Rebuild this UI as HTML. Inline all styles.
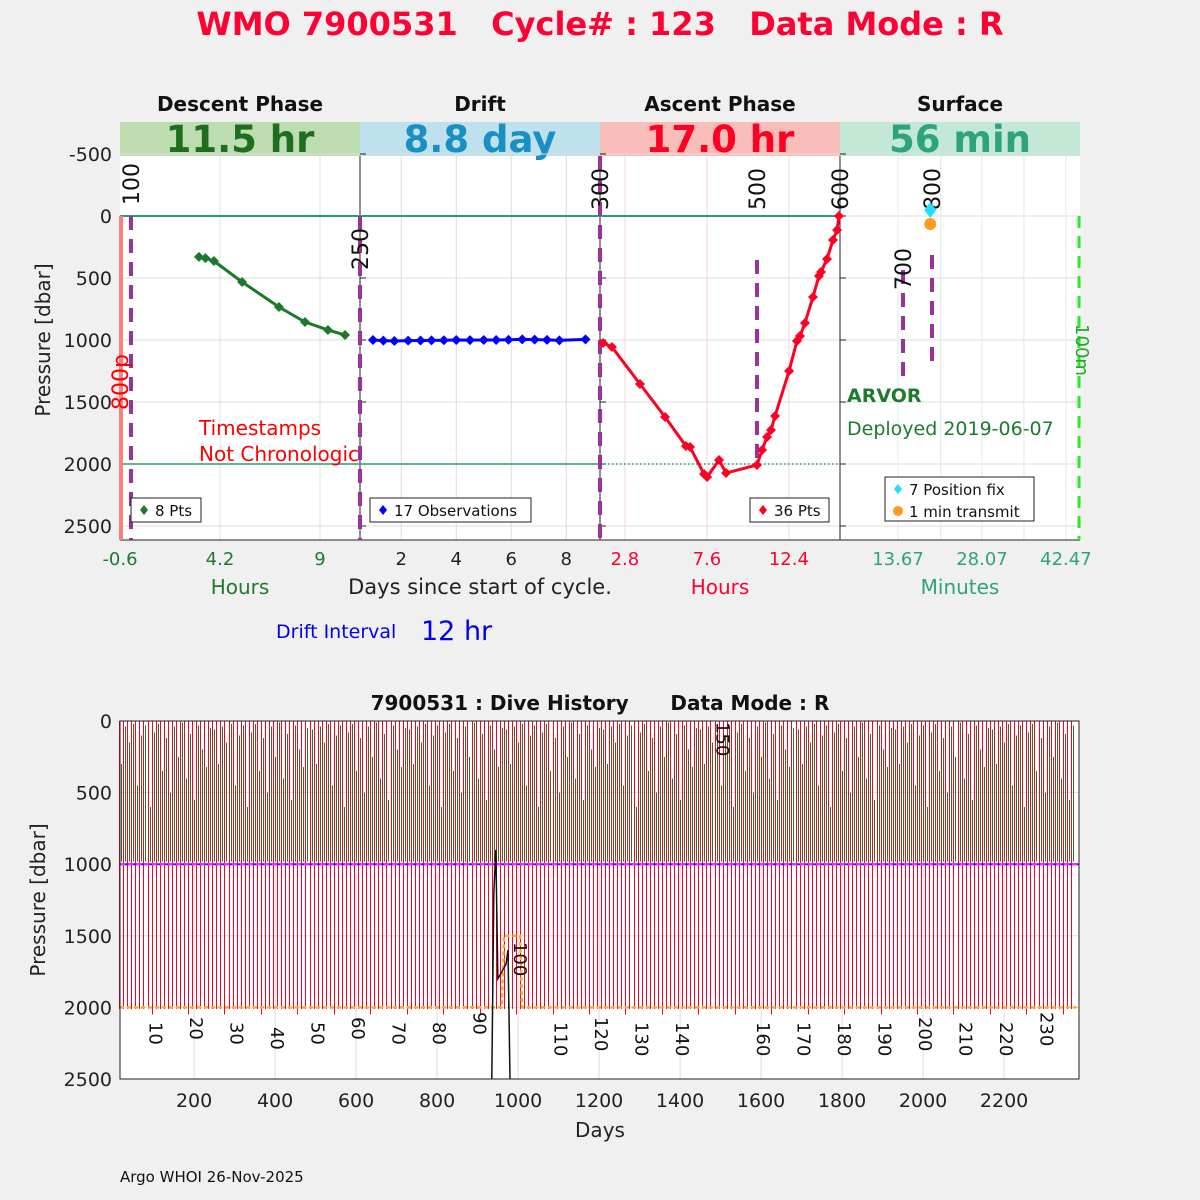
<!DOCTYPE html>
<html><head><meta charset="utf-8">
<style>
body{margin:0;background:#f0f0f0;}
svg{display:block;font-family:"DejaVu Sans","Liberation Sans",sans-serif;}
</style></head>
<body>
<svg id="c" width="1200" height="1200" viewBox="0 0 1200 1200" xmlns="http://www.w3.org/2000/svg"></svg>
<script>
// ---------- data ----------
const descentHours=[3.19,3.5,3.91,5.26,7.03,8.28,9.38,10.2];
const descentPres=[330,340,363,532,734,855,919,960];
const driftDays=[0.97,1.35,1.75,2.25,2.7,3.1,3.55,4.0,4.5,5.0,5.45,5.9,6.4,6.85,7.3,7.75,8.7];
const driftPres=[1000,1005,1008,1005,1004,1003,1002,1000,1001,1000,1000,998,995,997,999,1003,995];
const ascentHours=[1.52,2.04,3.68,5.15,6.37,6.61,7.43,7.61,8.31,8.72,10.53,10.83,11.12,11.35,11.59,12.41,12.87,13.05,13.34,13.81,14.16,14.28,14.63,14.98,15.22,15.33];
const ascentPres=[1024,1056,1355,1621,1855,1863,2081,2105,1968,2073,2008,1887,1782,1726,1613,1250,1008,968,863,653,484,452,347,194,113,0];
const surfMin=[19.2,19.2];
const surfPres=[-48,65];
const descTicks=[-0.6,4.2,9];
const driftTicks=[2,4,6,8];
const ascTicks=[2.8,7.6,12.4];
const surfTicks=[13.67,28.07,42.47];
const presTicks=[-500,0,500,1000,1500,2000,2500];
const histDayTicks=[200,400,600,800,1000,1200,1400,1600,1800,2000,2200];
const histPresTicks=[0,500,1000,1500,2000,2500];
const cycleLabels=[10,20,30,40,50,60,70,80,90,100,110,120,130,140,150,160,170,180,190,200,210,220,230];
const greenTops=[60,300,40,150,20,450,100,30,600,80,20,350,120,500,40,250,10,400,90,550,30,200,320,50];

// ---------- helpers ----------
const S=document.getElementById('c');
const NS='http://www.w3.org/2000/svg';
function el(t,a,p){const e=document.createElementNS(NS,t);for(const k in a)e.setAttribute(k,a[k]);(p||S).appendChild(e);return e;}
function txt(s,x,y,a,p){const e=el('text',Object.assign({x:x,y:y},a),p);e.textContent=s;return e;}
const yP=p=>216+p*0.124;
const xDesc=h=>120+(h+0.6)*100/4.8;
const xDrift=d=>360+(d-0.5)*27.5;
const xAsc=h=>600+(h-1.34)*17.08;
const xSurf=m=>840+(m-3.72)*5.83;
const xDay=d=>120+(d-17)*0.405;
const yH=p=>721+p*358/2500;

// ---------- titles ----------
let t=txt('WMO 7900531   Cycle# : 123   Data Mode : R',600,35,{'text-anchor':'middle','font-size':32,'font-weight':'bold',fill:'#ff0033',style:'white-space:pre'});



// ---------- top panels ----------
const topG=el('g',{});


el('rect',{x:120,y:122,width:960,height:418,fill:'#fff'},topG);
const phases=[['Descent Phase','11.5 hr','#bddcb0','#1e6e1e',120],['Drift','8.8 day','#bfe1ee','#1a90c0',360],['Ascent Phase','17.0 hr','#f8bdb9','#ff0022',600],['Surface','56 min','#c4e8d6','#2ea37c',840]];
phases.forEach((p,i)=>{
  const g=el('g',{},topG);
  
  
  el('rect',{x:p[4],y:122,width:240,height:34,fill:p[2]},g);
  txt(p[1],p[4]+120,152,{'text-anchor':'middle','font-size':37,'font-weight':'bold',fill:p[3]},g);
  txt(p[0],p[4]+120,111,{'text-anchor':'middle','font-size':20,'font-weight':'bold',fill:'#111'},g);
});
const grid=el('g',{stroke:'#dcdcdc','stroke-width':1},topG);


presTicks.forEach(v=>{el('line',{x1:120,x2:1080,y1:yP(v),y2:yP(v)},grid);});
descTicks.slice(1).forEach(v=>el('line',{x1:xDesc(v),x2:xDesc(v),y1:156,y2:540,stroke:'#d5e8da'},grid));
driftTicks.forEach(v=>el('line',{x1:xDrift(v),x2:xDrift(v),y1:156,y2:540},grid));
ascTicks.forEach(v=>el('line',{x1:xAsc(v),x2:xAsc(v),y1:156,y2:540,stroke:'#f3d8d8'},grid));
surfTicks.concat([35.27,21]).forEach(v=>el('line',{x1:xSurf(v),x2:xSurf(v),y1:156,y2:540,stroke:'#d8eee4'},grid));
[360,600,840].forEach(x=>el('line',{x1:x,x2:x,y1:156,y2:540,stroke:'#222','stroke-width':1},topG));
el('line',{x1:120,x2:1080,y1:540,y2:540,stroke:'#222'},topG);
presTicks.forEach(v=>{const l=txt(String(v),112,yP(v)+7,{'text-anchor':'end','font-size':19,fill:'#222'});
 
 
 [360,600,840].forEach(x=>el('line',{x1:x,x2:x+6,y1:yP(v),y2:yP(v),stroke:'#222'},topG));});
t=txt('Pressure [dbar]',50,340,{'text-anchor':'middle','font-size':20,fill:'#222',transform:'rotate(-90 50 340)'});


el('line',{x1:120,x2:840,y1:yP(0),y2:yP(0),stroke:'#2e9b74','stroke-width':2},topG);
el('line',{x1:120,x2:600,y1:yP(2000),y2:yP(2000),stroke:'#2e9b74','stroke-width':1.5},topG);
el('line',{x1:600,x2:840,y1:yP(2000),y2:yP(2000),stroke:'#2e9b74','stroke-width':1.5,'stroke-dasharray':'1.5 2.5'},topG);
el('line',{x1:121,x2:121,y1:216,y2:540,stroke:'#f88080','stroke-width':4},topG);
el('line',{x1:1079,x2:1079,y1:216,y2:540,stroke:'#22ee22','stroke-width':3,'stroke-dasharray':'12 8'},topG);
const marks=[[131,216,540],[360,216,540],[600,156,540],[757,260,465],[903,270,380],[932,255,370]];
marks.forEach(m=>el('line',{x1:m[0],x2:m[0],y1:m[1],y2:m[2],stroke:'#993399','stroke-width':4,'stroke-dasharray':'14 9'},topG));
const mlabels=[['100',131,205],['250',360,270],['300',600,210],['500',757,210],['600',840,210],['700',903,290],['800',932,210]];
mlabels.forEach(m=>txt(m[0],m[1]+8,m[2],{'font-size':22,fill:'#111',transform:`rotate(-90 ${m[1]+8} ${m[2]})`},topG));
txt('800p',128,410,{'font-size':22,fill:'#ff0000',transform:'rotate(-90 128 410)'},topG);
txt('100m',1076,350,{'font-size':18,fill:'#22aa22',transform:'rotate(90 1076 350)','text-anchor':'middle'},topG);
const clip=el('clipPath',{id:'cl1'},topG);el('rect',{x:120,y:122,width:240,height:418},clip);
txt('Timestamps',199,435,{'font-size':20,fill:'#ff0000','clip-path':'url(#cl1)'},topG);
txt('Not Chronologic',199,461,{'font-size':20,fill:'#ff0000','clip-path':'url(#cl1)'},topG);
txt('ARVOR',847,402,{'font-size':19,'font-weight':'bold',fill:'#1e7a2e'},topG);
txt('Deployed 2019-06-07',847,435,{'font-size':19,fill:'#1e7a2e'},topG);
function series(xs,ys,fx,col,name){
  const g=el('g',{},topG);
  
  
  el('polyline',{points:xs.map((v,i)=>fx(v)+','+yP(ys[i])).join(' '),fill:'none',stroke:col,'stroke-width':3},g);
  xs.forEach((v,i)=>{const p=el('path',{d:`M${fx(v)-5},${yP(ys[i])} l5,-5 l5,5 l-5,5z`,fill:col},g);
   
   });
}
series(descentHours,descentPres,xDesc,'#1a7a2a','descent-series');
series(driftDays,driftPres,xDrift,'#0000ff','drift-series');
series(ascentHours,ascentPres,xAsc,'#ff0022','ascent-series');
el('path',{d:`M${xSurf(surfMin[0])-6},${yP(surfPres[0])} l6,-8 l6,8 l-6,8z`,fill:'#22ddff'},topG);
el('circle',{cx:xSurf(surfMin[1]),cy:yP(surfPres[1]),r:6,fill:'#ff9922'},topG);
function legend(x,y,w,h,items,name){const g=el('g',{},topG);
 
 
 el('rect',{x:x,y:y,width:w,height:h,fill:'#fff',stroke:'#222'},g);
 items.forEach((it,i)=>{const cy=y+12+i*22;
  if(it[1]==='o')el('circle',{cx:x+13,cy:cy,r:5,fill:it[2]},g);else el('path',{d:`M${x+9},${cy} l4,-5 l4,5 l-4,5z`,fill:it[2]},g);
  txt(it[0],x+24,cy+6,{'font-size':15,fill:'#111'},g);});}
legend(131,498,70,24,[['8 Pts','d','#1a7a2a']],'legend-descent');
legend(370,498,161,24,[['17 Observations','d','#0000ff']],'legend-drift');
legend(750,498,79,24,[['36 Pts','d','#ff0022']],'legend-ascent');
legend(885,477,149,44,[['7 Position fix','d','#22ddff'],['1 min transmit','o','#ff9922']],'legend-surface');
descTicks.forEach(v=>txt(String(v),xDesc(v),565,{'text-anchor':'middle','font-size':18,fill:'#1e7a2e'}));
driftTicks.forEach(v=>txt(String(v),xDrift(v),565,{'text-anchor':'middle','font-size':18,fill:'#222'}));
ascTicks.forEach(v=>txt(String(v),xAsc(v),565,{'text-anchor':'middle','font-size':18,fill:'#ff0033'}));
surfTicks.forEach(v=>txt(String(v),xSurf(v),565,{'text-anchor':'middle','font-size':18,fill:'#2ea37c'}));
txt('Hours',240,594,{'text-anchor':'middle','font-size':20,fill:'#1e7a2e'});
txt('Days since start of cycle.',480,594,{'text-anchor':'middle','font-size':21,fill:'#222'});
txt('Hours',720,594,{'text-anchor':'middle','font-size':20,fill:'#ff0033'});
txt('Minutes',960,594,{'text-anchor':'middle','font-size':20,fill:'#2ea37c'});
txt('Drift Interval',276,638,{'font-size':19,fill:'#0000ee'});
txt('12 hr',421,640,{'font-size':27,fill:'#0000ee'});

// ---------- dive history ----------
const hist=el('g',{});


el('rect',{x:120,y:721,width:959,height:358,fill:'#fff'},hist);
histDayTicks.forEach(v=>el('line',{x1:xDay(v),x2:xDay(v),y1:721,y2:1079,stroke:'#dcdcdc'},hist));
histPresTicks.forEach(v=>el('line',{x1:120,x2:1079,y1:yH(v),y2:yH(v),stroke:'#dcdcdc'},hist));
const cyc=el('g',{'shape-rendering':'crispEdges'},hist);


for(let n=1;n<=236;n++){
  const d=10*n+5, x=Math.round(xDay(d))+0.5;
  if(x>1077)break;
  el('line',{x1:x,x2:x,y1:yH(0),y2:yH(n%9===0?2050:2010),stroke:'#ff0022','stroke-width':1},cyc);
  const gt=greenTops[n%greenTops.length];
  el('line',{x1:x+2,x2:x+2,y1:yH(gt),y2:yH(980),stroke:'#1a7a2a','stroke-width':1},cyc);
}
el('line',{x1:120,x2:1079,y1:yH(1000),y2:yH(1000),stroke:'#2222ff','stroke-width':2},hist);
el('line',{x1:120,x2:1079,y1:yH(1000),y2:yH(1000),stroke:'#ff22ff','stroke-width':2.5,'stroke-dasharray':'5 3'},hist);
el('polyline',{points:[[17,2000],[960,2000],[965,1500],[1005,1500],[1010,2000],[2385,2000]].map(p=>xDay(p[0])+','+yH(p[1])).join(' '),fill:'none',stroke:'#ffaa33','stroke-width':2.5,'stroke-dasharray':'4 3'},hist);
el('polyline',{points:[[935,2500],[940,1200],[945,900],[950,1800],[970,1700],[975,1600],[980,2500]].map(p=>xDay(p[0])+','+yH(p[1])).join(' '),fill:'none',stroke:'#111','stroke-width':1.5},hist);
el('rect',{x:120,y:721,width:959,height:358,fill:'none',stroke:'#222'},hist);
const cl=[1040,1035,1040,1045,1040,1035,1040,1040,1030,960,1040,1035,1040,1040,740,1040,1040,1040,1040,1035,1040,1040,1030];
cycleLabels.forEach((c,i)=>{const x=xDay(10*c+5)-6,y=cl[i]-18;const l=txt(String(c),x,y,{'font-size':18,fill:'#111',transform:`rotate(90 ${x} ${y})`},hist);
  
  });
histDayTicks.forEach(v=>txt(String(v),xDay(v),1107,{'text-anchor':'middle','font-size':19,fill:'#222'}));
histPresTicks.forEach(v=>txt(String(v),112,yH(v)+7,{'text-anchor':'end','font-size':19,fill:'#222'}));
txt('Days',600,1137,{'text-anchor':'middle','font-size':20,fill:'#222'});
txt('Pressure [dbar]',45,900,{'text-anchor':'middle','font-size':20,fill:'#222',transform:'rotate(-90 45 900)'});
txt('7900531 : Dive History      Data Mode : R',600,710,{'text-anchor':'middle','font-size':20,'font-weight':'bold',fill:'#111',style:'white-space:pre'});
txt('Argo WHOI 26-Nov-2025',120,1182,{'font-size':15,fill:'#111'});
</script>
</body></html>
